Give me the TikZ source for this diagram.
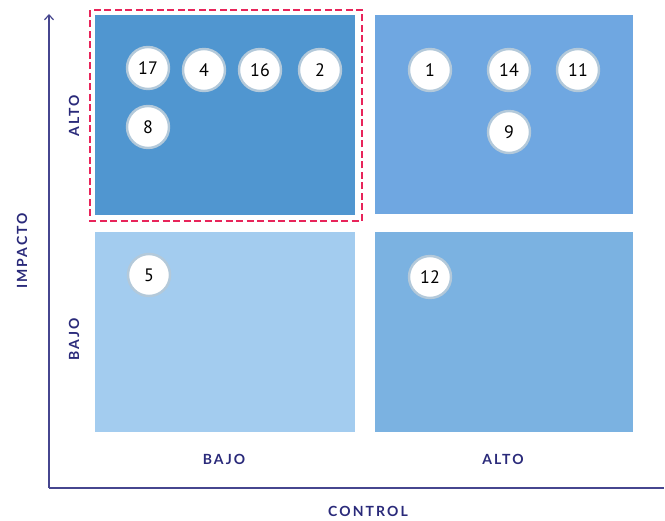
\documentclass[tikz,border=0pt]{standalone}
\usepackage{fontspec}
\setmainfont{Lato}
\newfontfamily\lblfont[LetterSpace=15]{Lato Bold}
\newfontfamily\numfont{PT Sans}
\usetikzlibrary{arrows.meta}
\definecolor{navy}{HTML}{2A2A7A}
\definecolor{axisc}{HTML}{46468F}
\definecolor{qtl}{HTML}{5096D0}
\definecolor{qtr}{HTML}{6FA7E1}
\definecolor{qbl}{HTML}{A3CCEF}
\definecolor{qbr}{HTML}{7BB2E1}
\definecolor{ringc}{HTML}{B3C9DA}
\definecolor{dashc}{HTML}{E8245A}
\tikzset{
  quad/.style={draw=none, inner sep=0pt, anchor=north west},
  num/.style={circle, fill=white, draw=ringc, line width=2.4pt, minimum size=42pt, inner sep=0pt, font=\numfont\fontsize{18}{18}\selectfont},
  axlbl/.style={text=navy, font=\lblfont\fontsize{14}{14}\selectfont},
}
\begin{document}
\begin{tikzpicture}[x=1pt,y=-1pt]
\useasboundingbox (0,0) rectangle (665,521);
% quadrants
\node[quad, fill=qtl, minimum width=260pt, minimum height=200pt] (tl) at (95,15) {};
\node[quad, fill=qtr, minimum width=258pt, minimum height=199pt] (tr) at (375,15) {};
\node[quad, fill=qbl, minimum width=260pt, minimum height=200pt] (bl) at (95,232) {};
\node[quad, fill=qbr, minimum width=258pt, minimum height=200pt] (br) at (375,232) {};
% highlight
\draw[dashc, line width=2.4pt, dash pattern=on 7pt off 3.5pt] (90,10) rectangle (362,221);
% axes
\coordinate (o) at (49,488);
\coordinate (ytop) at (49,14);
\coordinate (xend) at (664,488);
\draw[axisc, line width=1.2pt, -{Straight Barb[length=5pt,width=9pt]}] (o) -- (ytop);
\draw[axisc, line width=1.2pt] (o) -- (xend);
% labels
\node[axlbl, rotate=90] (imp) at (22,251) {IMPACTO};
\node[axlbl, rotate=90] (yalto) at (74,116) {ALTO};
\node[axlbl, rotate=90] (ybajo) at (74,339) {BAJO};
\node[axlbl] (xbajo) at (224,459) {BAJO};
\node[axlbl] (xalto) at (503,459) {ALTO};
\node[axlbl] (ctrl) at (368,511) {CONTROL};
% numbers
\node[num] (n17) at (148,68) {17};
\node[num] (n4) at (204,70) {4};
\node[num] (n16) at (260,70) {16};
\node[num] (n2) at (320,70) {2};
\node[num] (n8) at (148,127) {8};
\node[num] (n1) at (430,70) {1};
\node[num] (n14) at (509,70) {14};
\node[num] (n11) at (578,70) {11};
\node[num] (n9) at (509,132) {9};
\node[num] (n5) at (149,275) {5};
\node[num] (n12) at (430,277) {12};
\end{tikzpicture}
\end{document}
